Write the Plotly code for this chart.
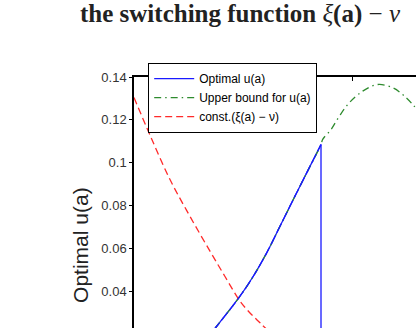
import plotly.graph_objects as go

# ---- data ----
# const.(xi(a) - nu) (red dashed)
a_switch = [0.0, 0.0734, 0.1651, 0.2569, 0.3486, 0.4174, 0.4862, 0.5321, 0.5780, 0.6468]
v_switch = [0.1304, 0.1129, 0.0922, 0.0750, 0.0588, 0.0470, 0.0355, 0.0300, 0.0254, 0.0186]

# Upper bound for u(a) (green dash-dot)
a_upper = [0.3257, 0.3794, 0.4862, 0.5472, 0.6087, 0.6697, 0.7307, 0.7922, 0.8578,
           0.8656, 0.9037, 0.9417, 0.9876, 1.0491, 1.1179, 1.1867, 1.2326, 1.2784, 1.3349]
v_upper = [0.0172, 0.0238, 0.0378, 0.0471, 0.0580, 0.0704, 0.0829, 0.0953, 0.1085,
           0.1109, 0.1155, 0.1217, 0.1280, 0.1334, 0.1365, 0.1350, 0.1318, 0.1272, 0.1200]

# Optimal u(a) (blue solid): follows the bound, then switches off
a_opt = [0.3257, 0.3794, 0.4862, 0.5472, 0.6087, 0.6697, 0.7307, 0.7922, 0.8578]
v_opt = [0.0172, 0.0238, 0.0378, 0.0471, 0.0580, 0.0704, 0.0829, 0.0953, 0.1085]
a_drop = [0.8578, 0.8578, 1.40]
v_drop = [0.1085, 0.0, 0.0]

y_ticks = [0.04, 0.06, 0.08, 0.10, 0.12, 0.14]
y_ticktext = ["0.04", "0.06", "0.08", "0.1", "0.12", "0.14"]
x_ticks = [0, 1]

x_range = [0, 1.2936]
y_range = [0.02298, 0.14]

fig = go.Figure()
fig.add_trace(go.Scatter(x=a_opt, y=v_opt, mode="lines", name="Optimal u(a)",
                         line=dict(color="#1a1aff", width=1.3, shape="spline")))
fig.add_trace(go.Scatter(x=a_upper, y=v_upper, mode="lines", name="Upper bound for u(a)",
                         line=dict(color="#2e8b2e", width=1.3, shape="spline",
                                   dash="7px,4px,1.5px,4px")))
fig.add_trace(go.Scatter(x=a_switch, y=v_switch, mode="lines", name="const.(ξ(a) − ν)",
                         line=dict(color="#ff2a2a", width=1.3, shape="spline", dash="7px,4px")))
# blue drawn over the green where they coincide
fig.add_trace(go.Scatter(x=a_opt, y=v_opt, mode="lines", showlegend=False,
                         line=dict(color="#1a1aff", width=1.3, shape="spline", dash="10px,3px")))
fig.add_trace(go.Scatter(x=a_drop, y=v_drop, mode="lines", showlegend=False,
                         line=dict(color="#1a1aff", width=1.3)))

fig.update_layout(
    width=416, height=328,
    margin=dict(l=134, r=0, t=77, b=0, autoexpand=False),
    paper_bgcolor="white", plot_bgcolor="white",
    showlegend=True,
    legend=dict(x=0.0496, y=1.0558, xanchor="left", yanchor="top",
                bgcolor="white", bordercolor="black", borderwidth=1.2,
                font=dict(family="Liberation Sans, Arial", size=12, color="black"),
                tracegroupgap=0, itemwidth=40),
    xaxis=dict(range=x_range, side="top", showline=True, linecolor="black", linewidth=1.5,
               ticks="inside", ticklen=4, tickcolor="black", tickvals=x_ticks,
               showticklabels=False, showgrid=False, zeroline=False),
    yaxis=dict(range=y_range, showline=True, linecolor="black", linewidth=1.5,
               ticks="outside", ticklen=3, tickcolor="black", tickvals=y_ticks,
               ticktext=y_ticktext, showgrid=False, zeroline=False,
               tickfont=dict(family="Liberation Sans, Arial", size=13, color="#333333")),
    annotations=[
        dict(text="<b>the switching function</b> <i>ξ</i><b>(a)</b> − <i>ν</i>",
             xref="paper", yref="paper", x=0.376, y=1.251, xanchor="center", yanchor="middle",
             showarrow=False, font=dict(family="Liberation Serif, Times New Roman", size=25,
                                        color="#222222")),
        dict(text="Optimal u(a)", xref="paper", yref="paper", x=-0.188, y=0.331,
             xanchor="center", yanchor="middle", textangle=-90, showarrow=False,
             font=dict(family="Liberation Sans, Arial", size=21, color="#222222")),
    ],
)

fig.write_html("out.html")
